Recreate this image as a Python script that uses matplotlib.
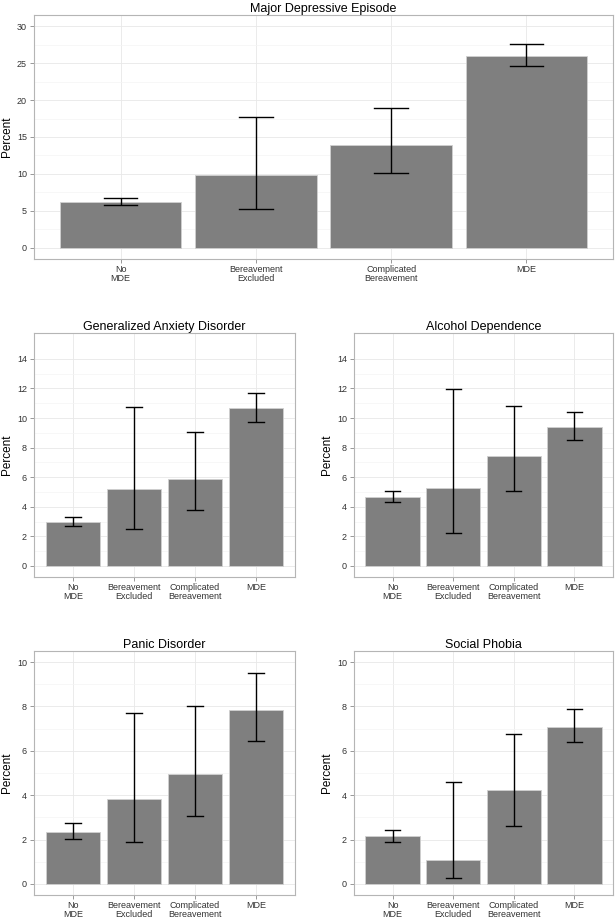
import numpy as np
from matplotlib import pyplot as plt

plt.rcParams['font.family'] = ['Liberation Sans', 'DejaVu Sans']

groups = ["No\nMDE", "Bereavement\nExcluded", "Complicated\nBereavement", "MDE"]

mde_val = [6.27, 9.88, 13.94, 25.98]
mde_lo = [5.82, 5.28, 10.15, 24.54]
mde_hi = [6.72, 17.64, 18.9, 27.56]

gad_val = [2.98, 5.23, 5.88, 10.69]
gad_lo = [2.71, 2.48, 3.79, 9.76]
gad_hi = [3.29, 10.73, 9.06, 11.68]

alc_val = [4.69, 5.25, 7.44, 9.40]
alc_lo = [4.33, 2.23, 5.07, 8.50]
alc_hi = [5.09, 11.93, 10.78, 10.39]

pan_val = [2.36, 3.84, 4.97, 7.84]
pan_lo = [2.03, 1.89, 3.06, 6.44]
pan_hi = [2.75, 7.70, 8.00, 9.50]

soc_val = [2.15, 1.08, 4.22, 7.09]
soc_lo = [1.89, 0.27, 2.63, 6.38]
soc_hi = [2.43, 4.58, 6.77, 7.88]

W, H = 615, 921
fig = plt.figure(figsize=(W / 100, H / 100), dpi=100)


def make_ax(x0, y0, x1, y1):
    return fig.add_axes([x0 / W, (H - y1) / H, (x1 - x0) / W, (y1 - y0) / H])


def panel(ax, title, val, lo, hi, ymax, step):
    x = np.arange(len(groups))
    ax.bar(x, val, width=0.9, color="#7f7f7f", edgecolor="#d0d0d0",
           linewidth=0.6, zorder=2)
    ax.errorbar(x, val,
                yerr=[np.array(val) - np.array(lo), np.array(hi) - np.array(val)],
                fmt="none", ecolor="black", elinewidth=1.0, capsize=0,
                zorder=3)
    for xi, l, h in zip(x, lo, hi):
        ax.plot([xi - 0.125, xi + 0.125], [l, l], color="black", lw=1.0, zorder=3)
        ax.plot([xi - 0.125, xi + 0.125], [h, h], color="black", lw=1.0, zorder=3)
    ax.set_xlim(-0.64, 3.64)
    ax.set_ylim(-0.05 * ymax, 1.05 * ymax)
    ticks = np.arange(0, ymax + 0.01, step)
    ax.set_yticks(ticks)
    ax.set_yticks(ticks[:-1] + step / 2, minor=True)
    ax.set_xticks(x)
    ax.set_xticklabels(groups, fontsize=6.5, color="#333333", linespacing=1.0)
    ax.tick_params(axis="y", labelsize=6.5, labelcolor="#333333", color="#888888",
                   length=3, width=0.6, pad=2)
    ax.tick_params(axis="x", color="#888888", length=3, width=0.6, pad=1.5)
    ax.tick_params(axis="y", which="minor", length=0)
    ax.grid(True, which="major", color="#e8e8e8", lw=0.6, zorder=0)
    ax.grid(True, which="minor", axis="y", color="#f4f4f4", lw=0.5, zorder=0)
    ax.set_axisbelow(True)
    for s in ax.spines.values():
        s.set_color("#b5b5b5")
        s.set_linewidth(0.8)
    ax.set_ylabel("Percent", fontsize=8.5, labelpad=3)
    ax.set_title(title, fontsize=9, pad=2)


ax1 = make_ax(34, 15, 613, 259)
panel(ax1, "Major Depressive Episode", mde_val, mde_lo, mde_hi, 30, 5)

ax2 = make_ax(34, 333, 295, 577)
panel(ax2, "Generalized Anxiety Disorder", gad_val, gad_lo, gad_hi, 15, 2)
ax2.set_yticks(np.arange(0, 15, 2))
ax2.set_yticks(np.arange(1, 15, 2), minor=True)

ax3 = make_ax(354, 333, 613, 577)
panel(ax3, "Alcohol Dependence", alc_val, alc_lo, alc_hi, 15, 2)
ax3.set_yticks(np.arange(0, 15, 2))
ax3.set_yticks(np.arange(1, 15, 2), minor=True)

ax4 = make_ax(34, 651, 295, 895)
panel(ax4, "Panic Disorder", pan_val, pan_lo, pan_hi, 10, 2)

ax5 = make_ax(354, 651, 613, 895)
panel(ax5, "Social Phobia", soc_val, soc_lo, soc_hi, 10, 2)

fig.savefig("out.png", dpi=100, facecolor="white")
